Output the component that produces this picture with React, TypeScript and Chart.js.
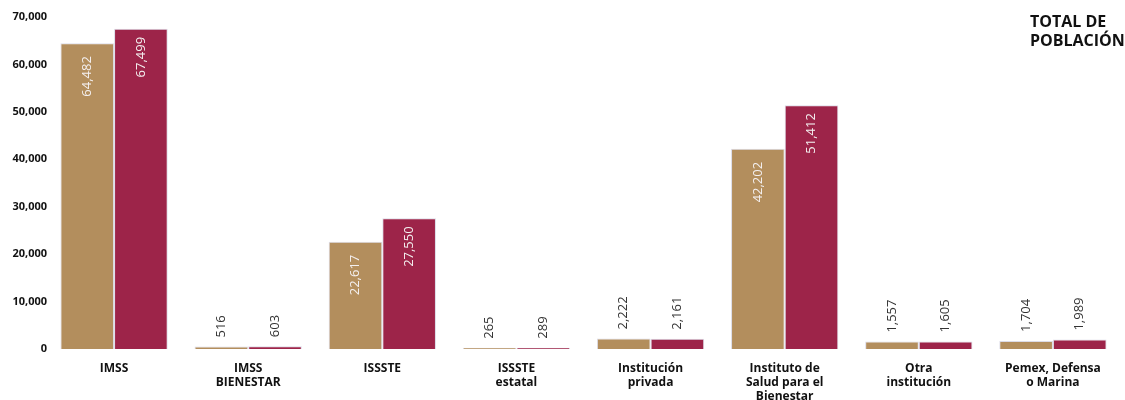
import React, { useEffect, useRef } from "react";
import { Chart, registerables } from "chart.js";

Chart.register(...registerables);

const categories: (string | string[])[] = [
  "IMSS",
  ["IMSS", "BIENESTAR"],
  "ISSSTE",
  ["ISSSTE", "estatal"],
  ["Institución", "privada"],
  ["Instituto de", "Salud para el", "Bienestar"],
  ["Otra", "institución"],
  ["Pemex, Defensa", "o Marina"],
];
const seriesA = [64482, 516, 22617, 265, 2222, 42202, 1557, 1704];
const seriesB = [67499, 603, 27550, 289, 2161, 51412, 1605, 1989];
const yTicks = [0, 10000, 20000, 30000, 40000, 50000, 60000, 70000];
const titleLines = ["TOTAL DE", "POBLACIÓN"];

const FONT = "'Open Sans', 'Noto Sans', sans-serif";
const insideOffsets = [13, 8];

const valueLabels = {
  id: "valueLabels",
  afterDatasetsDraw(chart: any) {
    const ctx = chart.ctx;
    ctx.save();
    ctx.font = `400 13px ${FONT}`;
    ctx.textBaseline = "middle";
    chart.data.datasets.forEach((ds: any, di: number) => {
      const meta = chart.getDatasetMeta(di);
      meta.data.forEach((bar: any, i: number) => {
        const v = ds.data[i] as number;
        const txt = v.toLocaleString("en-US");
        const h = bar.base - bar.y;
        ctx.save();
        ctx.translate(bar.x, bar.y);
        ctx.rotate(-Math.PI / 2);
        if (h > 60) {
          ctx.fillStyle = "#f4f0f0";
          ctx.textAlign = "right";
          ctx.fillText(txt, -insideOffsets[di], 0);
        } else {
          ctx.fillStyle = "#333333";
          ctx.textAlign = "left";
          ctx.fillText(txt, 9, 0);
        }
        ctx.restore();
      });
    });
    ctx.restore();
  },
};

export default function App() {
  const ref = useRef<HTMLCanvasElement>(null);
  useEffect(() => {
    document.body.style.margin = "0";
    const chart = new Chart(ref.current!, {
      type: "bar",
      data: {
        labels: categories,
        datasets: [
          {
            label: "Serie 1",
            data: seriesA,
            backgroundColor: "#B38E5D",
            borderColor: "#dcdce8",
            borderWidth: 1,
          },
          {
            label: "Serie 2",
            data: seriesB,
            backgroundColor: "#9D2449",
            borderColor: "#dcdce8",
            borderWidth: 1,
          },
        ],
      },
      options: {
        responsive: false,
        animation: false,
        maintainAspectRatio: false,
        layout: { padding: { top: 17, right: 5, left: 0, bottom: 0 } },
        plugins: { legend: { display: false }, tooltip: { enabled: false } },
        datasets: { bar: { categoryPercentage: 0.8, barPercentage: 1.0 } },
        scales: {
          x: {
            grid: { display: false, drawTicks: false },
            border: { display: false },
            ticks: {
              color: "#111",
              font: { family: FONT, size: 12, weight: "bold" },
              padding: 12,
              maxRotation: 0,
              autoSkip: false,
            },
            afterFit(scale: any) {
              scale.height = 51;
            },
          },
          y: {
            min: 0,
            max: 70000,
            grid: { display: false, drawTicks: false },
            border: { display: false },
            afterBuildTicks(scale: any) {
              scale.ticks = yTicks.map((v) => ({ value: v }));
            },
            ticks: {
              color: "#111",
              font: { family: FONT, size: 11, weight: "bold" },
              padding: 0,
              callback: (v: any) => Number(v).toLocaleString("en-US"),
            },
            afterFit(scale: any) {
              scale.width = 47;
            },
          },
        },
      },
      plugins: [valueLabels],
    });
    return () => chart.destroy();
  }, []);
  return (
    <div style={{ position: "relative", width: 1125, height: 400 }}>
      <canvas ref={ref} width={1125} height={400} style={{ display: "block" }} />
      <div
        style={{
          position: "absolute",
          left: 1030,
          top: 12,
          fontFamily: FONT,
          fontWeight: 700,
          fontSize: 16,
          lineHeight: "19px",
          color: "#111",
        }}
      >
        {titleLines.map((l) => (
          <div key={l}>{l}</div>
        ))}
      </div>
    </div>
  );
}
